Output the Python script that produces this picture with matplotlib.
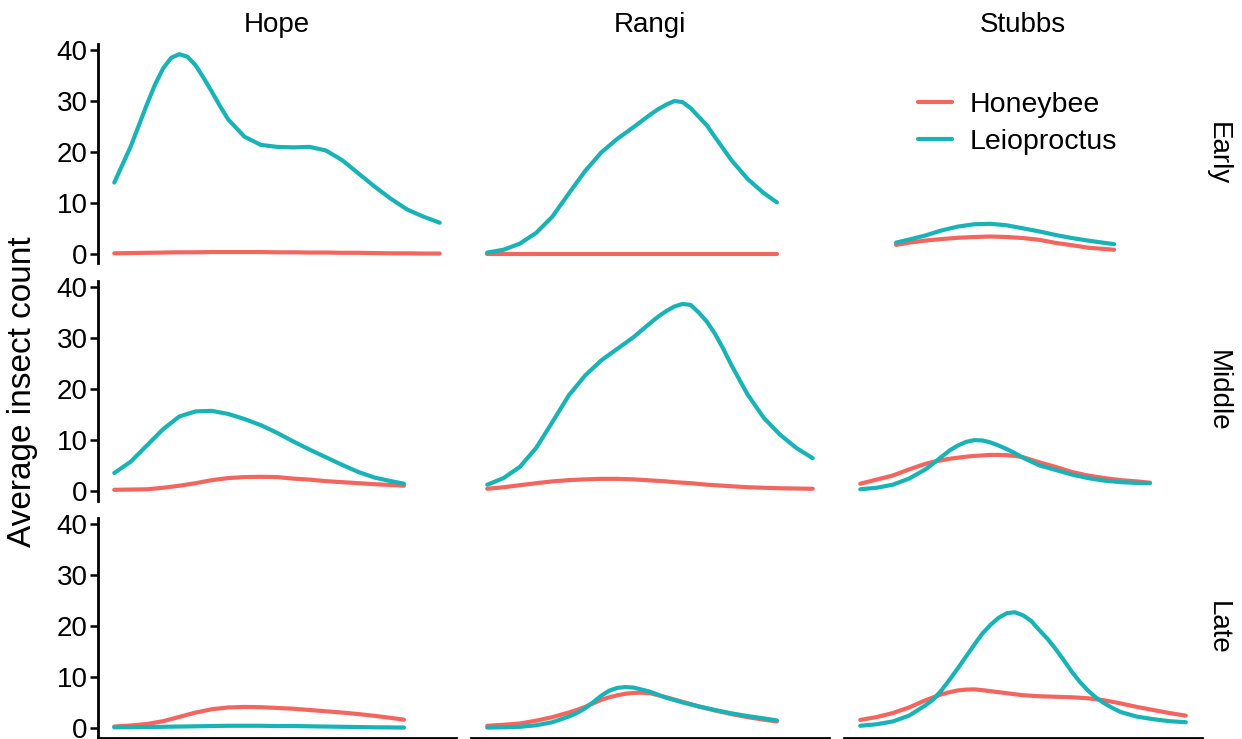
import matplotlib
matplotlib.use("Agg")
import matplotlib.pyplot as plt

plt.rcParams['font.family'] = ['Liberation Sans', 'DejaVu Sans']

sites = ['Hope', 'Rangi', 'Stubbs']
periods = ['Early', 'Middle', 'Late']
species = ['Honeybee', 'Leioproctus']
colors = ['#F3665F', '#19B3B5']

# x positions (days into the sampling window), denser near the peaks
x_full = [0, 5, 10, 15, 20, 25, 30, 35, 40, 45, 50, 55, 60, 65, 70, 75, 80, 85, 90, 95, 100]
x_short = [0, 5, 10, 15, 20, 25, 30, 35, 40, 45, 50, 55, 60, 65, 70, 75, 80, 85, 89]
x_hope_early = [0, 5, 10, 12.5, 15, 17.5, 20, 22.5, 25, 27.5, 30, 32.5, 35, 40, 45, 50,
                55, 60, 65, 70, 75, 80, 85, 90, 95, 100]
x_rangi_early = [0, 5, 10, 15, 20, 25, 30, 35, 40, 45, 50, 52.5, 55, 57.5, 60, 62.5,
                 65, 67.5, 70, 75, 80, 85, 89]
x_rangi_middle = [0, 5, 10, 15, 20, 25, 30, 35, 40, 45, 50, 52.5, 55, 57.5, 60, 62.5,
                  65, 67.5, 70, 72.5, 75, 80, 85, 90, 95, 100]
x_rangi_late = [0, 5, 10, 15, 20, 25, 27.5, 30, 32.5, 35, 37.5, 40, 42.5, 45, 47.5,
                50, 52.5, 55, 60, 65, 70, 75, 80, 85, 89]
x_stubbs_early = [11, 15, 20, 25, 30, 35, 40, 45, 50, 55, 60, 65, 70, 75, 78]
x_stubbs_middle = [0, 5, 10, 15, 20, 22.5, 25, 27.5, 30, 32.5, 35, 37.5, 40, 42.5, 45,
                   47.5, 50, 55, 60, 65, 70, 75, 80, 85, 89]
x_stubbs_late = [0, 5, 10, 15, 20, 22.5, 25, 27.5, 30, 32.5, 35, 37.5, 40, 42.5, 45,
                 47.5, 50, 52.5, 55, 57.5, 60, 62.5, 65, 67.5, 70, 72.5, 75, 77.5, 80,
                 85, 90, 95, 100]

# Hope
hope_early_honeybee = [0.1, 0.15, 0.2, 0.22, 0.25, 0.28, 0.3, 0.3, 0.3, 0.32, 0.35, 0.35,
                       0.35, 0.35, 0.35, 0.3, 0.3, 0.25, 0.25, 0.2, 0.2, 0.15, 0.1, 0.1,
                       0.05, 0.05]
hope_early_leio = [14.0, 21.0, 29.3, 33.2, 36.4, 38.5, 39.2, 38.7, 37.0, 34.5, 31.8, 29.0,
                   26.4, 23.0, 21.4, 21.0, 20.9, 21.0, 20.3, 18.4, 15.8, 13.2, 10.8, 8.7,
                   7.3, 6.1]
hope_middle_honeybee = [0.2, 0.25, 0.3, 0.6, 1.0, 1.5, 2.1, 2.5, 2.7, 2.75, 2.7,
                        2.4, 2.2, 1.9, 1.7, 1.5, 1.3, 1.15, 1.0]
hope_middle_leio = [3.5, 5.7, 8.9, 12.1, 14.6, 15.6, 15.7, 15.1, 14.1, 12.9, 11.4,
                    9.7, 8.1, 6.6, 5.1, 3.7, 2.6, 1.9, 1.4]
hope_late_honeybee = [0.25, 0.45, 0.75, 1.3, 2.15, 3.0, 3.65, 4.0, 4.1, 4.05, 3.9,
                      3.75, 3.5, 3.25, 3.0, 2.7, 2.35, 1.95, 1.6]
hope_late_leio = [0.1, 0.12, 0.15, 0.2, 0.25, 0.3, 0.35, 0.4, 0.4, 0.4, 0.35,
                  0.35, 0.3, 0.25, 0.2, 0.15, 0.1, 0.08, 0.05]

# Rangi
rangi_early_honeybee = [0.05, 0.05, 0.05, 0.05, 0.05, 0.05, 0.05, 0.05, 0.05, 0.05, 0.05,
                        0.05, 0.05, 0.05, 0.05, 0.05, 0.05, 0.05, 0.05, 0.05, 0.05, 0.05,
                        0.05]
rangi_early_leio = [0.25, 0.8, 2.0, 4.1, 7.3, 11.8, 16.2, 19.9, 22.6, 24.9, 27.3, 28.4,
                    29.3, 30.0, 29.8, 28.6, 26.9, 25.2, 22.9, 18.4, 14.7, 11.9, 10.1]
rangi_middle_honeybee = [0.4, 0.7, 1.1, 1.5, 1.85, 2.1, 2.25, 2.35, 2.35, 2.25, 2.05, 1.95,
                         1.85, 1.7, 1.6, 1.5, 1.35, 1.2, 1.1, 1.0, 0.9, 0.7, 0.6, 0.5,
                         0.45, 0.4]
rangi_middle_leio = [1.2, 2.5, 4.7, 8.4, 13.5, 18.7, 22.6, 25.6, 27.9, 30.2, 32.9, 34.2,
                     35.3, 36.2, 36.7, 36.5, 35.0, 33.2, 30.8, 27.9, 24.7, 18.9, 14.3,
                     11.0, 8.4, 6.4]
rangi_late_honeybee = [0.4, 0.6, 0.85, 1.4, 2.1, 3.0, 3.5, 4.1, 4.8, 5.5, 6.0, 6.4, 6.7,
                       6.85, 6.9, 6.8, 6.4, 6.0, 5.1, 4.2, 3.4, 2.7, 2.1, 1.6, 1.25]
rangi_late_leio = [0.05, 0.1, 0.2, 0.5, 1.1, 2.2, 2.9, 3.8, 5.0, 6.3, 7.3, 7.85, 8.0,
                   7.9, 7.5, 7.1, 6.5, 5.9, 5.0, 4.2, 3.5, 2.85, 2.3, 1.85, 1.45]

# Stubbs
stubbs_early_honeybee = [1.75, 2.2, 2.6, 2.9, 3.15, 3.3, 3.4, 3.3, 3.1, 2.75, 2.15,
                         1.7, 1.2, 0.95, 0.8]
stubbs_early_leio = [2.2, 2.8, 3.6, 4.6, 5.35, 5.8, 5.9, 5.6, 5.0, 4.4, 3.7,
                     3.1, 2.6, 2.15, 1.9]
stubbs_middle_honeybee = [1.4, 2.2, 3.0, 4.2, 5.3, 5.7, 6.0, 6.3, 6.5, 6.7, 6.85, 6.95,
                          7.05, 7.05, 7.0, 6.85, 6.6, 5.6, 4.7, 3.7, 3.0, 2.5, 2.1, 1.85,
                          1.6]
stubbs_middle_leio = [0.3, 0.6, 1.2, 2.4, 4.2, 5.4, 6.7, 7.95, 8.9, 9.6, 9.95, 9.9, 9.5,
                      8.9, 8.2, 7.4, 6.5, 5.0, 4.1, 3.2, 2.5, 2.0, 1.7, 1.55, 1.5]
stubbs_late_honeybee = [1.55, 2.1, 2.9, 4.0, 5.4, 6.0, 6.6, 7.0, 7.35, 7.5, 7.55, 7.4,
                        7.2, 7.0, 6.8, 6.6, 6.4, 6.3, 6.2, 6.15, 6.1, 6.05, 6.0, 5.9,
                        5.8, 5.6, 5.4, 5.1, 4.8, 4.1, 3.5, 2.9, 2.4]
stubbs_late_leio = [0.4, 0.7, 1.25, 2.4, 4.4, 5.6, 7.4, 9.5, 11.7, 14.0, 16.3, 18.5,
                    20.2, 21.6, 22.5, 22.7, 22.1, 21.0, 19.2, 17.5, 15.5, 13.3, 11.0,
                    9.0, 7.3, 5.9, 4.8, 3.9, 3.1, 2.2, 1.7, 1.3, 1.1]

y_ticks = [0, 10, 20, 30, 40]

panels = {
    ('Hope', 'Early'): (x_hope_early, hope_early_honeybee, hope_early_leio),
    ('Hope', 'Middle'): (x_short, hope_middle_honeybee, hope_middle_leio),
    ('Hope', 'Late'): (x_short, hope_late_honeybee, hope_late_leio),
    ('Rangi', 'Early'): (x_rangi_early, rangi_early_honeybee, rangi_early_leio),
    ('Rangi', 'Middle'): (x_rangi_middle, rangi_middle_honeybee, rangi_middle_leio),
    ('Rangi', 'Late'): (x_rangi_late, rangi_late_honeybee, rangi_late_leio),
    ('Stubbs', 'Early'): (x_stubbs_early, stubbs_early_honeybee, stubbs_early_leio),
    ('Stubbs', 'Middle'): (x_stubbs_middle, stubbs_middle_honeybee, stubbs_middle_leio),
    ('Stubbs', 'Late'): (x_stubbs_late, stubbs_late_honeybee, stubbs_late_leio),
}

W, H = 1242, 739
fig = plt.figure(figsize=(W / 100, H / 100), dpi=100)

col_left = [98, 471, 844]
panel_w = 358
row_top = [43.5, 280.5, 517.5]
panel_h = 220
fs = 20

axes = {}
for i, period in enumerate(periods):
    for j, site in enumerate(sites):
        ax = fig.add_axes([col_left[j] / W, 1 - (row_top[i] + panel_h) / H,
                           panel_w / W, panel_h / H])
        xs, hb, le = panels[(site, period)]
        for vals, c, name in zip([hb, le], colors, species):
            ax.plot(xs, vals, color=c, lw=3, label=name,
                    solid_joinstyle='round', solid_capstyle='round')
        ax.set_xlim(-5, 105)
        ax.set_ylim(-1.9, 41.3)
        ax.set_xticks([])
        for s in ['top', 'right']:
            ax.spines[s].set_visible(False)
        ax.spines['left'].set_linewidth(2)
        ax.spines['bottom'].set_linewidth(2)
        if j == 0:
            ax.set_yticks(y_ticks)
            ax.tick_params(axis='y', length=6, width=1.8, pad=1.5, labelsize=fs)
        else:
            ax.spines['left'].set_visible(False)
            ax.set_yticks([])
        if i != 2:
            ax.spines['bottom'].set_visible(False)
        if i == 0:
            ax.text(0.5, 1 + (row_top[0] - 25) / panel_h, site, transform=ax.transAxes,
                    ha='center', va='center', fontsize=fs)
        if j == 2:
            ax.text(1218 / W, 1 - (row_top[i] + panel_h / 2) / H, period,
                    transform=fig.transFigure, rotation=270,
                    ha='center', va='center', fontsize=fs)
        axes[(site, period)] = ax

leg_ax = axes[('Stubbs', 'Early')]
leg_ax.legend(loc='upper left', bbox_to_anchor=(918 / W, 1 - 92 / H),
              bbox_transform=fig.transFigure, frameon=False, fontsize=20.5,
              handlelength=1.2, handletextpad=0.62, labelspacing=0.4,
              borderpad=0, borderaxespad=0)

fig.text(23 / W, 1 - 392 / H, 'Average insect count', rotation=90,
         ha='center', va='center', fontsize=24)

fig.savefig('out.png', dpi=100)
